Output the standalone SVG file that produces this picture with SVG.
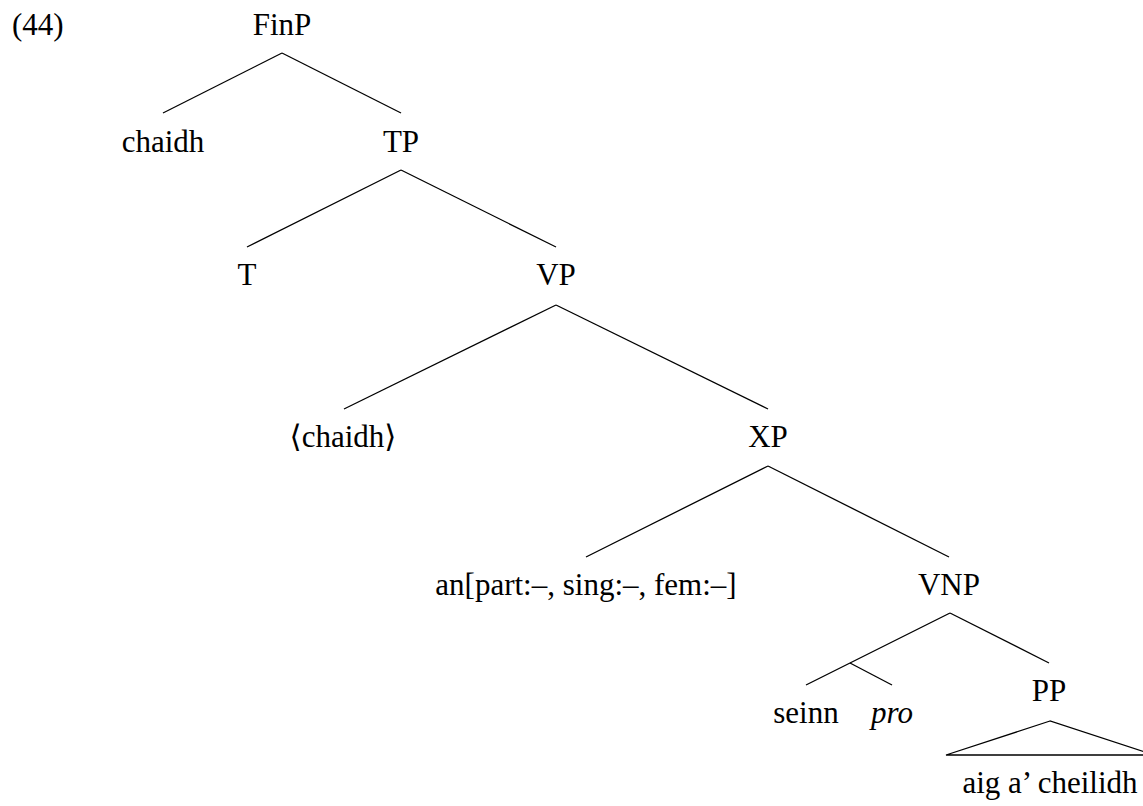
<svg xmlns="http://www.w3.org/2000/svg" width="1143" height="806" viewBox="0 0 1143 806">
<style>
text{font-family:"Liberation Serif","Times New Roman",serif;font-size:31px;fill:#000;text-anchor:middle}
.br{font-family:"DejaVu Serif","DejaVu Sans",serif;font-size:31px}
.it{font-style:italic}
line,polygon{stroke:#000;stroke-width:1.3;fill:none}
</style>
<rect width="1143" height="806" fill="#fff"/>
<text x="12" y="35" style="text-anchor:start">(44)</text>
<g id="connectors">
<line x1="282" y1="53" x2="163" y2="113"/>
<line x1="282" y1="53" x2="401" y2="113"/>
<line x1="401" y1="170" x2="247" y2="247"/>
<line x1="401" y1="170" x2="556" y2="247"/>
<line x1="556" y1="305" x2="344" y2="409"/>
<line x1="556" y1="305" x2="768" y2="409"/>
<line x1="768" y1="466" x2="586" y2="557"/>
<line x1="768" y1="466" x2="949" y2="557"/>
<line x1="950" y1="613" x2="806" y2="685"/>
<line x1="850" y1="663" x2="892" y2="685"/>
<line x1="950" y1="613" x2="1049" y2="663"/>
<polygon points="1050,721 946,755 1154,755"/>
</g>
<g id="FinP"><text x="282" y="35">FinP</text></g>
<g id="chaidh"><text x="163" y="152">chaidh</text></g>
<g id="TP"><text x="401" y="152">TP</text></g>
<g id="T"><text x="247" y="285">T</text></g>
<g id="VP"><text x="556" y="285">VP</text></g>
<g id="chaidh-trace"><text x="343" y="447"><tspan class="br">⟨</tspan>chaidh<tspan class="br">⟩</tspan></text></g>
<g id="XP"><text x="768" y="447">XP</text></g>
<g id="an"><text x="586" y="595">an[part:–, sing:–, fem:–]</text></g>
<g id="VNP"><text x="949" y="595">VNP</text></g>
<g id="seinn"><text x="806" y="723">seinn</text></g>
<g id="pro"><text x="892" y="723" class="it">pro</text></g>
<g id="PP"><text x="1049" y="701">PP</text></g>
<g id="aig"><text x="1050" y="793">aig a’ cheilidh</text></g>
</svg>
